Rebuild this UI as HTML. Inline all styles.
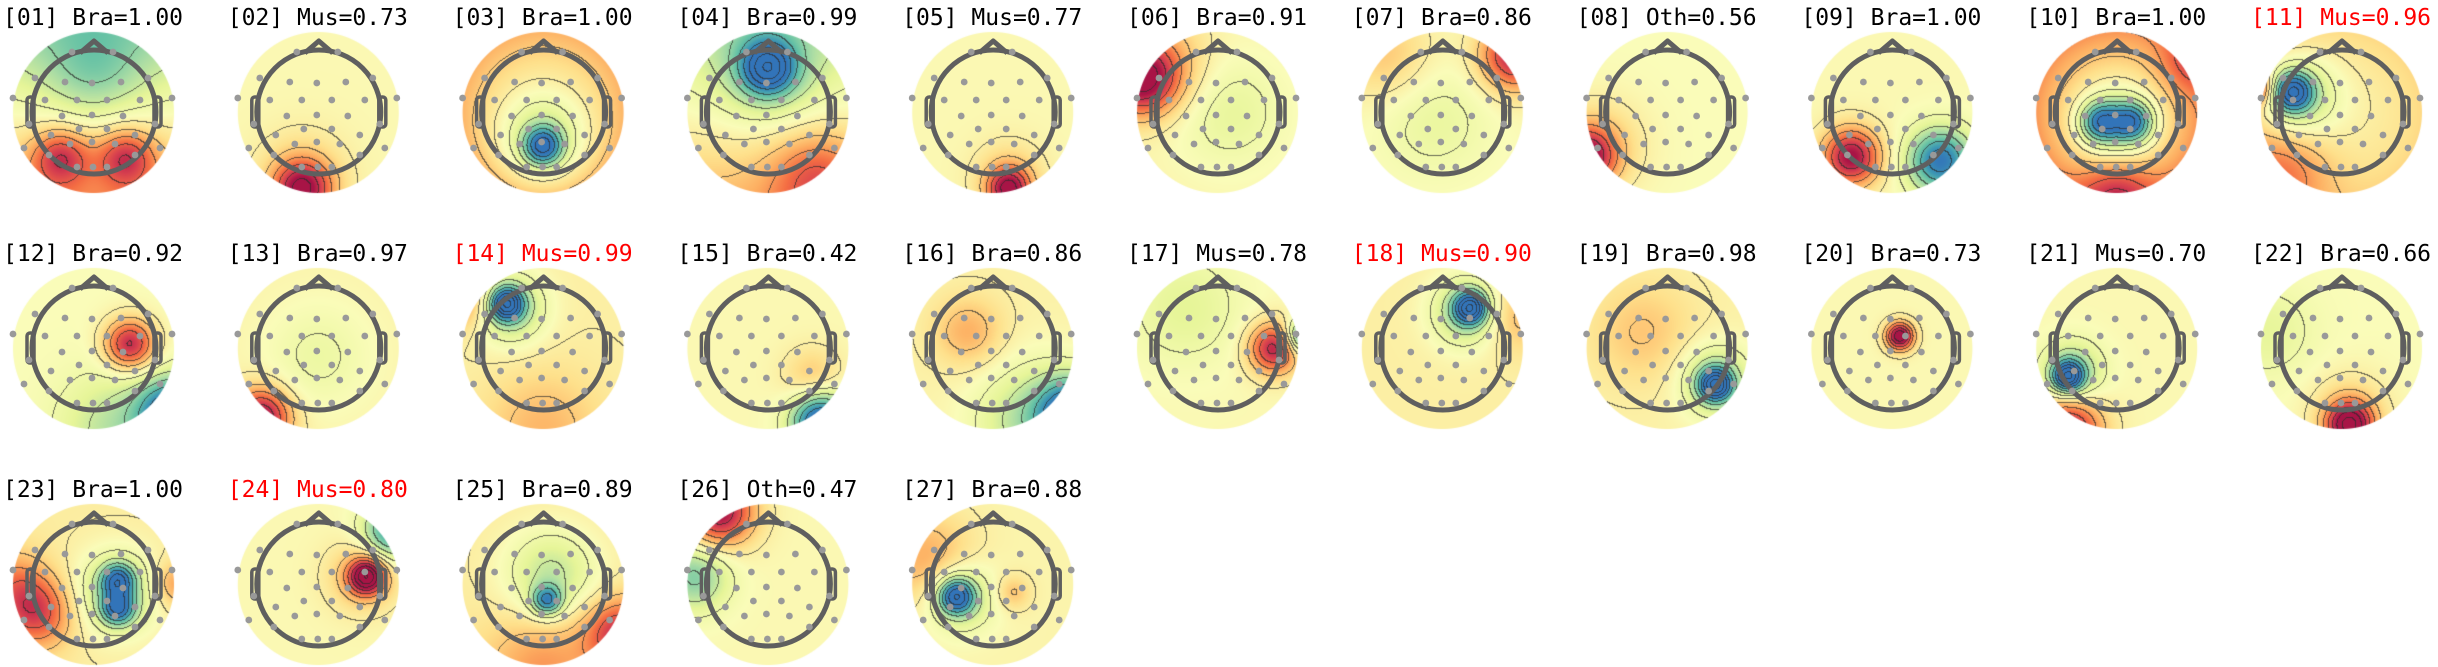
<!DOCTYPE html>
<html><head><meta charset="utf-8">
<style>
html,body{margin:0;padding:0;background:#fff;}
#wrap{position:relative;width:2438px;height:667px;overflow:hidden;}
canvas,svg{position:absolute;left:0;top:0;}
</style></head>
<body>
<div id="wrap">
<canvas id="cv" width="2438" height="667"></canvas>
<svg id="sv" width="2438" height="667"></svg>
</div>
<script>
// component labels
const labels = ["Bra","Mus","Bra","Bra","Mus","Bra","Bra","Oth","Bra","Bra","Mus","Bra","Bra","Mus","Bra","Bra","Mus","Mus","Bra","Bra","Mus","Bra","Bra","Mus","Bra","Oth","Bra"];
const scores = [1.00,0.73,1.00,0.99,0.77,0.91,0.86,0.56,1.00,1.00,0.96,0.92,0.97,0.99,0.42,0.86,0.78,0.90,0.98,0.73,0.70,0.66,1.00,0.80,0.89,0.47,0.88];
const flagged = [11,14,18,24];
// field parameters: base, vertical gradient, radial term
const bases = [0,0.03,0.12,0.03,0.03,0.06,0.03,0,0.03,0.18,0.1,0,0.06,0.1,0.03,0.08,0.03,0.1,0.08,0.03,0.03,0,0.12,0.03,0.12,0.03,0.06];
const gradY = [0.5,0,0,0.35,0,0,0,0,0,0,0,0,0,0,0,0,0,0,0,0,0,0,0,0,0,0,0];
const radial = [0,0,0.3,0,0,0,0,0,0,0.35,0.15,0,0,0,0,0,0,0,0,0,0,0,0,0,0,0,0];
// blobs per map: [x, y, sigma, amplitude] in head-radius units
const blobs = [
 [[-0.4,0.55,0.25,0.7],[0.4,0.55,0.25,0.7],[0,-0.45,0.45,-0.35]],
 [[-0.2,0.95,0.25,1.0],[-0.2,0.8,0.4,0.25]],
 [[0,0.42,0.16,-1.0],[0,0.35,0.38,-0.5]],
 [[0,-0.55,0.22,-1.0],[0,-0.5,0.45,-0.45],[0.6,0.8,0.4,0.5]],
 [[0.2,0.95,0.18,1.0],[0.2,0.8,0.3,0.3]],
 [[-0.95,-0.4,0.3,1.0],[-0.7,-0.6,0.4,0.4],[0.15,0,0.5,-0.25]],
 [[0.9,-0.7,0.3,1.0],[-0.7,-0.7,0.4,0.3],[-0.1,0.1,0.5,-0.2]],
 [[-1.0,0.55,0.25,1.0],[-0.85,0.4,0.4,0.3]],
 [[-0.5,0.55,0.25,1.1],[0.6,0.6,0.28,-1.1]],
 [[-0.2,0.12,0.17,-0.9],[0.2,0.12,0.17,-0.9],[0,0.15,0.35,-0.55],[0,1,0.3,0.5],[0.9,-0.6,0.25,0.3]],
 [[-0.6,-0.25,0.17,-1.1],[-0.55,-0.2,0.35,-0.55],[-1.05,-0.3,0.15,0.8],[-0.7,0.7,0.4,0.4]],
 [[0.45,-0.05,0.22,1.0],[1.0,0.8,0.3,-1.2],[0.3,1.0,0.5,-0.4]],
 [[-0.7,0.85,0.25,1.1],[0,0.1,0.45,-0.2]],
 [[-0.45,-0.55,0.14,-1.2],[-0.4,-0.5,0.3,-0.6],[-1,-0.6,0.25,0.5],[0,1,0.5,0.3]],
 [[0.65,0.9,0.25,-1.3],[0.55,0.35,0.25,0.3]],
 [[-0.3,-0.2,0.3,0.35],[1,0.8,0.3,-1.2],[0.5,0.9,0.5,-0.5]],
 [[-0.4,-0.5,0.5,-0.25],[0.7,0,0.22,1.0],[1.05,-0.15,0.15,-1.0]],
 [[0.35,-0.5,0.14,-1.2],[0.3,-0.45,0.3,-0.6],[0.9,-0.4,0.3,0.3]],
 [[-0.3,-0.2,0.45,0.25],[0.6,0.45,0.14,-1.2],[0.6,0.4,0.3,-0.6]],
 [[0.1,-0.15,0.12,1.3]],
 [[-0.6,0.35,0.13,-1.2],[-0.55,0.3,0.26,-0.6],[-0.6,1.0,0.3,1.0]],
 [[0.1,0.95,0.2,1.2],[0.1,0.8,0.35,0.3],[-0.9,-0.2,0.4,-0.2]],
 [[0.3,-0.05,0.14,-0.9],[0.3,0.3,0.14,-0.9],[0.3,0.1,0.35,-0.6],[-0.7,0.35,0.3,0.7],[-1,0,0.3,0.4],[1,0,0.2,0.4]],
 [[0.6,-0.1,0.15,1.2],[0.55,-0.1,0.3,0.4],[0.9,-0.65,0.25,-0.9]],
 [[0.05,0.2,0.13,-0.9],[0.1,-0.1,0.4,-0.5],[0.95,0.6,0.3,0.8],[0,1,0.5,0.4]],
 [[-0.6,-0.9,0.3,1.1],[-0.9,-0.1,0.3,-0.6]],
 [[-0.45,0.15,0.15,-1.1],[-0.4,0.15,0.3,-0.5],[-0.8,-0.3,0.4,0.4],[0.25,0.1,0.15,0.3]]
];
// electrode offsets (px from centre)
const elecX = [-21,20,-58,-28,-1,28,55,-80,-48,-16,14,47,79,-31,-1,30,-64,62,-14,14,-42,42,-69,-23,-1,22,67,-44,42,-16,0,14];
const elecY = [-60,-60,-34,-30,-29,-30,-34,-14,-12,-12,-12,-12,-14,4,3,4,12,12,17,17,23,23,36,32,30,32,36,43,43,55,55,55];

const R = 81, COLS = 11, DX = 224.8, DY = 236, CX0 = 93, CY0 = 112;
const stops = [[50,116,185],[60,150,180],[102,194,165],[171,221,164],[230,245,152],[250,252,185],[254,224,139],[253,174,97],[244,109,67],[213,62,79],[168,20,70]];
function color(v){
  let t = (v+1.1)/2.2*10; t=Math.max(0,Math.min(10,t));
  const i=Math.min(9,Math.floor(t)), f=t-i, a=stops[i], b=stops[i+1];
  return [a[0]+(b[0]-a[0])*f,a[1]+(b[1]-a[1])*f,a[2]+(b[2]-a[2])*f];
}
const cv=document.getElementById('cv'), ctx=cv.getContext('2d');
const img=ctx.createImageData(2438,667), D=img.data;
for(let i=0;i<D.length;i+=4){D[i]=D[i+1]=D[i+2]=255;D[i+3]=255;}
const NS='http://www.w3.org/2000/svg', sv=document.getElementById('sv');
function mk(tag,attrs,parent){const e=document.createElementNS(NS,tag);for(const k in attrs)e.setAttribute(k,attrs[k]);parent.appendChild(e);return e;}
const LV=0.21;
for(let m=0;m<labels.length;m++){
  const c=m%COLS, r=Math.floor(m/COLS);
  const cx=CX0+DX*c, cy=CY0+DY*r;
  const x0=Math.floor(cx-R), y0=Math.floor(cy-R), W=2*R+3;
  const F=new Float32Array(W*W).fill(NaN);
  for(let j=0;j<W;j++){
    for(let i=0;i<W;i++){
      const px=x0+i, py=y0+j;
      const x=(px-cx)/R, y=(py-cy)/R, d2=x*x+y*y;
      if(d2>1)continue;
      let v=bases[m]+gradY[m]*y+radial[m]*d2;
      for(const b of blobs[m]){const dx=x-b[0],dy=y-b[1];v+=b[3]*Math.exp(-(dx*dx+dy*dy)/(2*b[2]*b[2]));}
      F[j*W+i]=v;
    }
  }
  for(let j=0;j<W;j++){
    for(let i=0;i<W;i++){
      const v=F[j*W+i]; if(isNaN(v))continue;
      const px=x0+i, py=y0+j; if(px<0||px>=2438||py<0||py>=667)continue;
      let col=color(v);
      const lv=Math.floor(v/LV+0.5);
      const vr=i+1<W?F[j*W+i+1]:NaN, vd=j+1<W?F[(j+1)*W+i]:NaN;
      if((!isNaN(vr)&&Math.floor(vr/LV+0.5)!==lv)||(!isNaN(vd)&&Math.floor(vd/LV+0.5)!==lv)){
        col=[col[0]*0.3+30,col[1]*0.3+30,col[2]*0.3+30];
      }
      const dd=Math.hypot(px-cx,py-cy); let al=1; if(dd>R-1)al=Math.max(0,R-dd);
      const k=(py*2438+px)*4;
      D[k]=255+(col[0]-255)*al;D[k+1]=255+(col[1]-255)*al;D[k+2]=255+(col[2]-255)*al;
    }
  }
  const g=mk('g',{},sv);
  
  
  const t=mk('text',{x:3+DX*c,y:25+DY*r,'font-family':'"DejaVu Sans Mono","Liberation Mono",monospace','font-size':'23',fill:flagged.includes(m+1)?'#f00':'#000'},g);
  
  
  t.textContent='['+String(m+1).padStart(2,'0')+'] '+labels[m]+'='+scores[m].toFixed(2);
  const h=mk('g',{stroke:'#5f5f5f','stroke-width':'5',fill:'none'},g);
  
  
  mk('circle',{cx:cx+1,cy:cy,r:62},h);
  mk('polyline',{points:`${cx-13},${cy-59} ${cx+1},${cy-71} ${cx+15},${cy-59}`,'stroke-linejoin':'round'},h);
  mk('rect',{x:cx-66,y:cy-15,width:7,height:30,rx:3,'stroke-width':'3.5'},h);
  mk('rect',{x:cx+61,y:cy-15,width:7,height:30,rx:3,'stroke-width':'3.5'},h);
  const eg=mk('g',{fill:'#999'},g);
  
  
  for(let e=0;e<elecX.length;e++){
    const dot=mk('circle',{cx:cx+elecX[e],cy:cy+elecY[e],r:3.4},eg);
    
    
  }
}
ctx.putImageData(img,0,0);
</script>
</body></html>
